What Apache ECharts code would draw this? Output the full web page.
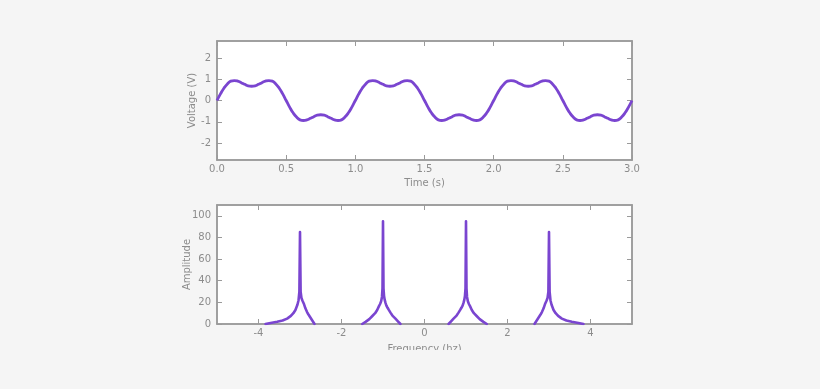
<!DOCTYPE html>
<html>
<head>
<meta charset="utf-8">
<script src="https://cdn.jsdelivr.net/npm/echarts@6/dist/echarts.min.js"></script>
<style>
  html, body { margin: 0; padding: 0; background: #f5f5f5; }
  #chart { width: 820px; height: 389px; }
</style>
</head>
<body>
<div id="chart"></div>
<script>
// ---- Top panel: time-domain signal ----
const timeS = [
  0, 0.025, 0.05, 0.075, 0.1, 0.125, 0.15, 0.175, 0.2, 0.225,
  0.25, 0.275, 0.3, 0.325, 0.35, 0.375, 0.4, 0.425, 0.45, 0.475,
  0.5, 0.525, 0.55, 0.575, 0.6, 0.625, 0.65, 0.675, 0.7, 0.725,
  0.75, 0.775, 0.8, 0.825, 0.85, 0.875, 0.9, 0.925, 0.95, 0.975,
  1.0, 1.025, 1.05, 1.075, 1.1, 1.125, 1.15, 1.175, 1.2, 1.225,
  1.25, 1.275, 1.3, 1.325, 1.35, 1.375, 1.4, 1.425, 1.45, 1.475,
  1.5, 1.525, 1.55, 1.575, 1.6, 1.625, 1.65, 1.675, 1.7, 1.725,
  1.75, 1.775, 1.8, 1.825, 1.85, 1.875, 1.9, 1.925, 1.95, 1.975,
  2.0, 2.025, 2.05, 2.075, 2.1, 2.125, 2.15, 2.175, 2.2, 2.225,
  2.25, 2.275, 2.3, 2.325, 2.35, 2.375, 2.4, 2.425, 2.45, 2.475,
  2.5, 2.525, 2.55, 2.575, 2.6, 2.625, 2.65, 2.675, 2.7, 2.725,
  2.75, 2.775, 2.8, 2.825, 2.85, 2.875, 2.9, 2.925, 2.95, 2.975,
  3.0
];
const voltage = [
  0, 0.31, 0.58, 0.78, 0.91, 0.94, 0.91, 0.84, 0.76, 0.69,
  0.67, 0.69, 0.76, 0.84, 0.91, 0.94, 0.91, 0.78, 0.58, 0.31,
  0, -0.31, -0.58, -0.78, -0.91, -0.94, -0.91, -0.84, -0.76, -0.69,
  -0.67, -0.69, -0.76, -0.84, -0.91, -0.94, -0.91, -0.78, -0.58, -0.31,
  0, 0.31, 0.58, 0.78, 0.91, 0.94, 0.91, 0.84, 0.76, 0.69,
  0.67, 0.69, 0.76, 0.84, 0.91, 0.94, 0.91, 0.78, 0.58, 0.31,
  0, -0.31, -0.58, -0.78, -0.91, -0.94, -0.91, -0.84, -0.76, -0.69,
  -0.67, -0.69, -0.76, -0.84, -0.91, -0.94, -0.91, -0.78, -0.58, -0.31,
  0, 0.31, 0.58, 0.78, 0.91, 0.94, 0.91, 0.84, 0.76, 0.69,
  0.67, 0.69, 0.76, 0.84, 0.91, 0.94, 0.91, 0.78, 0.58, 0.31,
  0, -0.31, -0.58, -0.78, -0.91, -0.94, -0.91, -0.84, -0.76, -0.69,
  -0.67, -0.69, -0.76, -0.84, -0.91, -0.94, -0.91, -0.78, -0.58, -0.31,
  0
];
const timeTicks = [0, 0.5, 1.0, 1.5, 2.0, 2.5, 3.0];
const voltTicks = [-2, -1, 0, 1, 2];

// ---- Bottom panel: spectrum (null = gap between peaks) ----
const freqHz = [
  -3.83, -3.71, -3.55, -3.42, -3.31, -3.22, -3.16, -3.11, -3.06, -3.035, -3.015,
  -3.0,
  -2.985, -2.965, -2.94, -2.91, -2.87, -2.83, -2.8, -2.75, -2.7, -2.65,
  null,
  -1.5, -1.42, -1.33, -1.256, -1.19, -1.14, -1.097, -1.07, -1.045, -1.025, -1.012,
  -1.0,
  -0.988, -0.975, -0.96, -0.94, -0.918, -0.89, -0.86, -0.82, -0.773, -0.7, -0.64, -0.58,
  null,
  0.58, 0.64, 0.7, 0.773, 0.82, 0.86, 0.89, 0.918, 0.94, 0.96, 0.975, 0.988,
  1.0,
  1.012, 1.025, 1.045, 1.07, 1.097, 1.14, 1.19, 1.256, 1.33, 1.42, 1.5,
  null,
  2.65, 2.7, 2.75, 2.8, 2.83, 2.87, 2.91, 2.94, 2.965, 2.985,
  3.0,
  3.015, 3.035, 3.06, 3.11, 3.16, 3.22, 3.31, 3.42, 3.55, 3.71, 3.83
];
const amplitude = [
  0, 1, 2, 3.2, 5, 7.5, 10, 13, 18, 22, 30,
  85,
  30, 24, 21.5, 19, 14.5, 11, 9, 6, 3, 0,
  null,
  0, 2, 4.5, 7.4, 10, 13, 16.5, 18.5, 21, 25, 33,
  95,
  33, 26, 22.5, 19.5, 17, 15, 13, 10.5, 7.8, 5, 2.5, 0,
  null,
  0, 2.5, 5, 7.8, 10.5, 13, 15, 17, 19.5, 22.5, 26, 33,
  95,
  33, 25, 21, 18.5, 16.5, 13, 10, 7.4, 4.5, 2, 0,
  null,
  0, 3, 6, 9, 11, 14.5, 19, 21.5, 24, 30,
  85,
  30, 22, 18, 13, 10, 7.5, 5, 3.2, 2, 1, 0
];
const freqTicks = [-4, -2, 0, 2, 4];
const ampTicks = [0, 20, 40, 60, 80, 100];

const LINE = '#7a45d0';
const GRAY = '#8c8c8c';
const FRAME = '#9a9a9a';
const FONT = 'DejaVu Sans';

function axisBase(extra) {
  return Object.assign({
    type: 'value',
    axisLine: { show: true, onZero: false, lineStyle: { color: FRAME, width: 1.5 } },
    splitLine: { show: false },
    nameTextStyle: { color: GRAY, fontFamily: FONT, fontSize: 10 },
    nameLocation: 'middle',
    nameMoveOverlap: false
  }, extra);
}
function ticks(vals) {
  return { show: true, inside: true, length: 5, customValues: vals, lineStyle: { color: FRAME, width: 1 } };
}
function labels(vals, margin, fmt) {
  const o = { color: GRAY, fontFamily: FONT, fontSize: 10, margin: margin, customValues: vals };
  if (fmt) o.formatter = fmt;
  return o;
}
function mirror(a, pos) {
  const m = Object.assign({}, a, { position: pos, name: '' });
  m.axisLabel = Object.assign({}, a.axisLabel, { show: false });
  return m;
}

const timeData = timeS.map((t, i) => [t, voltage[i]]);
const freqData = freqHz.map((f, i) => (f === null ? ['-', '-'] : [f, amplitude[i]]));

const xTop = axisBase({
  gridIndex: 0, min: 0, max: 3, position: 'bottom',
  name: 'Time (s)', nameGap: 18,
  axisTick: ticks(timeTicks),
  axisLabel: labels(timeTicks, 4, v => v.toFixed(1))
});
const yTop = axisBase({
  gridIndex: 0, min: -2.8, max: 2.8, position: 'left',
  name: 'Voltage (V)', nameGap: 20,
  axisTick: ticks(voltTicks),
  axisLabel: labels(voltTicks, 6)
});
const xBot = axisBase({
  gridIndex: 1, min: -5, max: 5, position: 'bottom',
  name: 'Frequency (hz)', nameGap: 20,
  axisTick: ticks(freqTicks),
  axisLabel: labels(freqTicks, 4)
});
const yBot = axisBase({
  gridIndex: 1, min: 0, max: 110, position: 'left',
  name: 'Amplitude', nameGap: 25,
  axisTick: ticks(ampTicks),
  axisLabel: labels(ampTicks, 6)
});

const option = {
  backgroundColor: '#f5f5f5',
  animation: false,
  grid: [
    { left: 217, right: 188, top: 41, height: 119, show: true, backgroundColor: '#ffffff', borderColor: FRAME, borderWidth: 1.5 },
    { left: 217, right: 188, top: 205, height: 119, show: true, backgroundColor: '#ffffff', borderColor: FRAME, borderWidth: 1.5 }
  ],
  xAxis: [xTop, mirror(xTop, 'top'), xBot, mirror(xBot, 'top')],
  yAxis: [yTop, mirror(yTop, 'right'), yBot, mirror(yBot, 'right')],
  series: [
    {
      type: 'line', xAxisIndex: 0, yAxisIndex: 0, data: timeData,
      showSymbol: false, smooth: true,
      lineStyle: { color: LINE, width: 2.8 }
    },
    {
      type: 'line', xAxisIndex: 2, yAxisIndex: 2, data: freqData,
      showSymbol: false, smooth: false, connectNulls: false,
      lineStyle: { color: LINE, width: 2.6, join: 'round', cap: 'round' }
    }
  ],
  graphic: [
    { type: 'rect', z: 100, shape: { x: 0, y: 350, width: 820, height: 39 }, style: { fill: '#f5f5f5' } }
  ]
};

const chart = echarts.init(document.getElementById('chart'), null, { renderer: 'canvas' });
chart.setOption(option);
</script>
</body>
</html>
